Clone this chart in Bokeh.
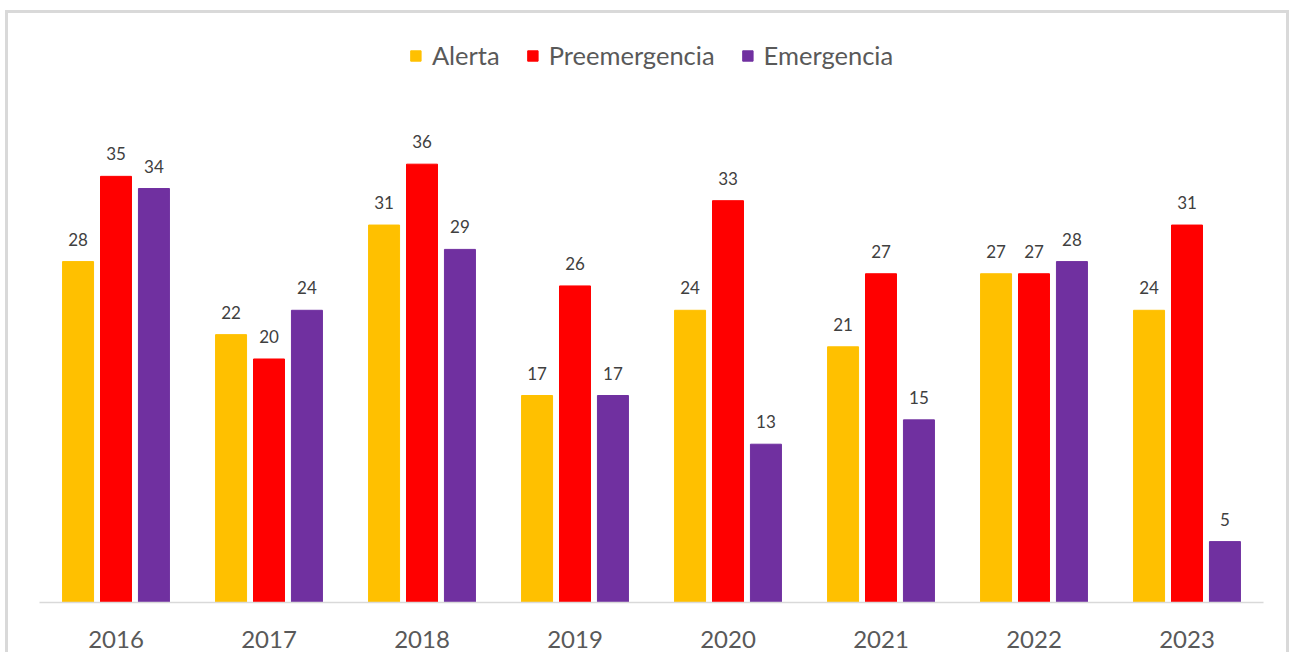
from bokeh.plotting import figure
from bokeh.models import ColumnDataSource, LabelSet, Legend, LegendItem
from bokeh.transform import dodge
from bokeh.core.properties import value
from bokeh.embed import file_html
from bokeh.resources import INLINE

years = ["2016", "2017", "2018", "2019", "2020", "2021", "2022", "2023"]
alerta = [28, 22, 31, 17, 24, 21, 27, 24]
preemergencia = [35, 20, 36, 26, 33, 27, 27, 31]
emergencia = [34, 24, 29, 17, 13, 15, 28, 5]

series = [
    ("Alerta", alerta, "#FFC000", -0.248),
    ("Preemergencia", preemergencia, "#FF0000", 0.0),
    ("Emergencia", emergencia, "#7030A0", 0.248),
]

FONT = "Lato"

p = figure(
    x_range=years, y_range=(0, 47.8),
    width=1291, height=652,
    output_backend="svg", toolbar_location=None,
    min_border_left=39, min_border_right=28,
    min_border_top=20, min_border_bottom=50,
)
p.border_fill_color = None
p.background_fill_color = None
g = "linear-gradient(#d9d9d9,#d9d9d9)"
p.styles = {
    "background": (
        f"{g} left 5px top 10px / 3px 100% no-repeat, "
        f"{g} left 5px top 10px / calc(100% - 7px) 3px no-repeat, "
        f"{g} right 2px top 10px / 3px 100% no-repeat, #ffffff"
    )
}

items = []
for name, vals, color, off in series:
    src = ColumnDataSource(dict(year=years, v=vals, t=[str(x) for x in vals]))
    r = p.vbar(x=dodge("year", off, range=p.x_range), top="v", width=0.2026,
               source=src, fill_color=color, line_color=color)
    items.append(LegendItem(label=name, renderers=[r]))
    lab = LabelSet(x=dodge("year", off, range=p.x_range), y="v", text="t",
                   source=src, text_align="center", text_baseline="bottom",
                   y_offset=16, text_font=value(FONT), text_font_size="17px",
                   text_color="#404040")
    p.add_layout(lab)

legend = Legend(items=items, orientation="horizontal", location="top_center",
                label_text_font=FONT, label_text_font_size="25.5px",
                label_text_color="#595959", glyph_width=13, glyph_height=13,
                label_standoff=10, spacing=26, margin=20, padding=13,
                label_height=26, border_line_color=None, background_fill_alpha=0)
p.add_layout(legend)

p.yaxis.visible = False
p.xgrid.grid_line_color = None
p.ygrid.grid_line_color = None
p.outline_line_color = None
p.x_range.range_padding = 0
p.xaxis.axis_line_color = "#d9d9d9"
p.xaxis.axis_line_width = 1.5
p.xaxis.major_tick_line_color = None
p.xaxis.minor_tick_line_color = None
p.xaxis.major_label_text_font = FONT
p.xaxis.major_label_text_font_size = "24px"
p.xaxis.major_label_text_color = "#595959"
p.xaxis.major_label_standoff = 22

open("out.html", "w").write(file_html(p, INLINE))
